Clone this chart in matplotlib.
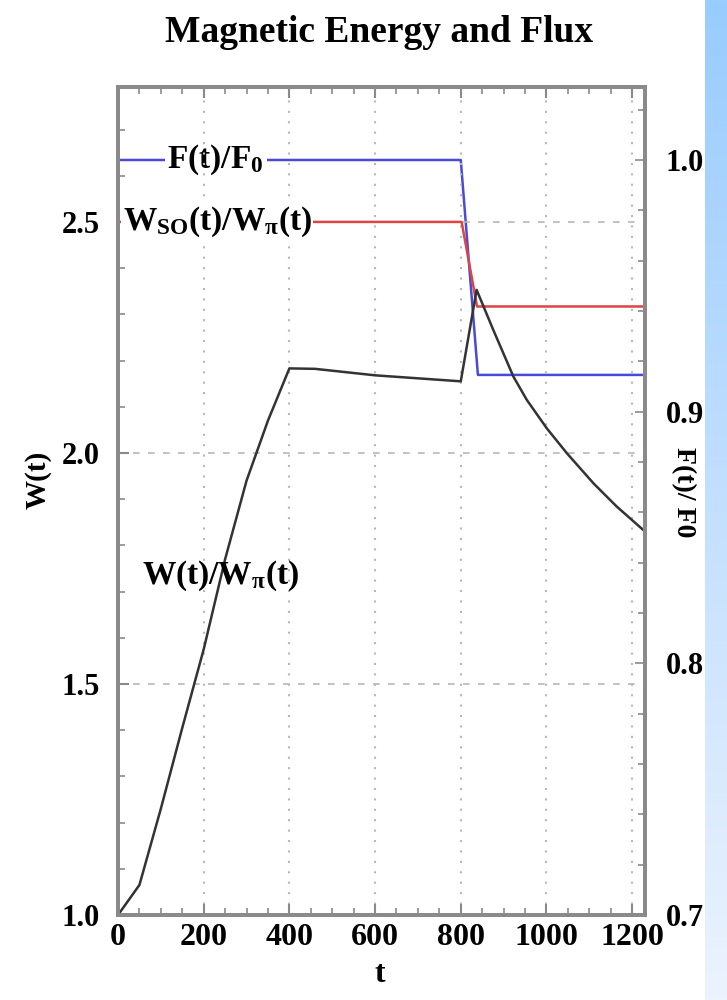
import numpy as np
import matplotlib
matplotlib.use("Agg")
import matplotlib.pyplot as plt
from matplotlib.ticker import MultipleLocator

plt.rcParams['font.family'] = ['Liberation Serif', 'DejaVu Serif']
plt.rcParams['font.weight'] = 'bold'
plt.rcParams['mathtext.fontset'] = 'custom'
plt.rcParams['mathtext.rm'] = 'Liberation Serif:bold'
plt.rcParams['mathtext.bf'] = 'Liberation Serif:bold'
plt.rcParams['mathtext.it'] = 'Liberation Serif:bold'

# Data
t_w = [0, 50, 100, 150, 200, 250, 300, 350, 400, 460, 600, 800,
       837, 876, 923, 954, 1001, 1048, 1110, 1164, 1230]
w_ratio = [1.0, 1.065, 1.23, 1.405, 1.575, 1.77, 1.94, 2.07, 2.183, 2.182,
           2.168, 2.155, 2.353, 2.266, 2.165, 2.115, 2.053, 1.999, 1.934,
           1.884, 1.83]

t_wso = [0, 802, 838, 1230]
wso_ratio = [2.5, 2.5, 2.317, 2.317]

t_flux = [0, 800, 840, 1230]
flux_ratio = [1.0, 1.0, 0.9146, 0.9146]

W, H = 727, 1000
fig = plt.figure(figsize=(W / 100, H / 100), dpi=100)

# Blue gradient band at right edge
bax = fig.add_axes([705 / W, 0, 22 / W, 1])
top = np.array([153, 204, 255]) / 255
bot = np.array([236, 243, 253]) / 255
g = np.linspace(0, 1, 256)[:, None, None]
grad = top * (1 - g) + bot * g
bax.imshow(np.repeat(grad, 2, axis=1), aspect='auto', extent=[0, 1, 0, 1])
bax.set_axis_off()

ax = fig.add_axes([118 / W, 1 - 915 / H, (645 - 118) / W, (915 - 87) / H])
ax2 = ax.twinx()

spine_col = '#8a8a8a'
grid_col = '#b8b8b8'

ax.set_xlim(0, 1230)
ax.set_ylim(1.0, 2.792)
ax2.set_ylim(0.7, 1.029)

ax.xaxis.set_major_locator(MultipleLocator(200))
ax.xaxis.set_minor_locator(MultipleLocator(50))
ax.yaxis.set_major_locator(MultipleLocator(0.5))
ax.yaxis.set_minor_locator(MultipleLocator(0.1))
ax2.yaxis.set_major_locator(MultipleLocator(0.1))
ax2.yaxis.set_minor_locator(MultipleLocator(0.02))

for a in (ax, ax2):
    for s in a.spines.values():
        s.set_color(spine_col)
        s.set_linewidth(2.8)
        s.set_zorder(5)

ax.tick_params(axis='x', which='both', direction='in', top=True, color=spine_col,
               labelsize=23, pad=6)
ax.tick_params(axis='y', which='both', direction='in', left=True, right=False,
               color=spine_col, labelsize=22, pad=13)
ax.tick_params(which='major', length=8, width=1.5)
ax.tick_params(which='minor', length=5, width=1.2)
ax2.tick_params(axis='y', which='both', direction='in', color=spine_col,
                labelsize=22, pad=15)
ax2.tick_params(which='major', length=7, width=1.2)
ax2.tick_params(which='minor', length=5, width=1.2)

ax.xaxis.grid(True, which='major', linestyle=(0, (1, 4)), color=grid_col, linewidth=1.5)
ax.yaxis.grid(True, which='major', linestyle=(0, (4, 5)), color=grid_col, linewidth=1.2)

ax.plot(t_w, w_ratio, color='#333333', linewidth=1.8, zorder=3)
ax.plot(t_wso, wso_ratio, color='#dd4444', linewidth=1.8, zorder=2)
ax2.plot(t_flux, flux_ratio, color='#4a4ad8', linewidth=1.8, zorder=2)

ax.set_zorder(ax2.get_zorder() + 1)
ax.patch.set_visible(False)

ax.text(232, 2.5, r'$\mathrm{W_{SO}(t)/W_{\pi}(t)}$', fontsize=24, ha='center',
        va='center', bbox=dict(facecolor='white', edgecolor='none', pad=1),
        zorder=4, clip_on=True)
ax2.text(228, 1.0, r'$\mathrm{F(t)/F_0}$', fontsize=24, ha='center', va='center',
         bbox=dict(facecolor='white', edgecolor='none', pad=2), zorder=4)
ax.text(240, 1.735, r'$\mathrm{W(t)/W_{\pi}(t)}$', fontsize=24, ha='center',
        va='center', zorder=4)

fig.text(380 / W, 1 - 975 / H, 't', fontsize=23, fontweight='bold',
         ha='center', va='center')
fig.text(38 / W, 1 - 480 / H, 'W(t)', rotation=90, fontsize=21, fontweight='bold',
         ha='center', va='center')
fig.text(683 / W, 1 - 492 / H, 'F(t)/ F0', rotation=-90, fontsize=20,
         fontweight='bold', ha='center', va='center')

fig.text(379 / W, 1 - 32 / H, 'Magnetic Energy and Flux', fontsize=27,
         fontweight='bold', ha='center', va='center')

for lab in ax.get_xticklabels() + ax.get_yticklabels() + ax2.get_yticklabels():
    lab.set_fontweight('bold')

fig.savefig('out.png', dpi=100, facecolor='white')
